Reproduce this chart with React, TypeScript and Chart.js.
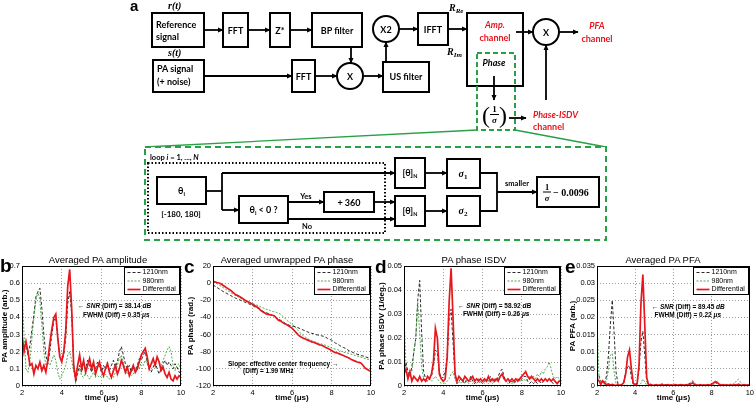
import React, { useEffect, useRef } from "react";
import { Chart, registerables } from "chart.js";
Chart.register(...registerables);

// ---------- data ----------
const TIME = [
  2.0, 2.1, 2.2, 2.3, 2.4, 2.5, 2.6, 2.7, 2.8, 2.9,
  3.0, 3.1, 3.2, 3.3, 3.4, 3.5, 3.6, 3.7, 3.8, 3.9,
  4.0, 4.1, 4.2, 4.3, 4.4, 4.5, 4.6, 4.7, 4.8, 4.9,
  5.0, 5.1, 5.2, 5.3, 5.4, 5.5, 5.6, 5.7, 5.8, 5.9,
  6.0, 6.1, 6.2, 6.3, 6.4, 6.5, 6.6, 6.7, 6.8, 6.9,
  7.0, 7.1, 7.2, 7.3, 7.4, 7.5, 7.6, 7.7, 7.8, 7.9,
  8.0, 8.1, 8.2, 8.3, 8.4, 8.5, 8.6, 8.7, 8.8, 8.9,
  9.0, 9.1, 9.2, 9.3, 9.4, 9.5, 9.6, 9.7, 9.8, 9.9,
  10.0,
];
const SERIES_LABELS = ["1210nm", "980nm", "Differential"];
const X_TICKS = { min: 2, max: 10, step: 2 };

// (b) Averaged PA amplitude
const B_1210 = [
  0.28, 0.22, 0.25, 0.18, 0.24, 0.33, 0.42, 0.52, 0.55, 0.57,
  0.45, 0.30, 0.18, 0.13, 0.20, 0.30, 0.38, 0.40, 0.28, 0.18,
  0.15, 0.18, 0.28, 0.48, 0.55, 0.42, 0.12, 0.02, 0.08, 0.12,
  0.08, 0.13, 0.10, 0.15, 0.12, 0.08, 0.12, 0.10, 0.14, 0.11,
  0.08, 0.12, 0.10, 0.14, 0.09, 0.12, 0.15, 0.11, 0.14, 0.20,
  0.23, 0.18, 0.13, 0.10, 0.12, 0.08, 0.11, 0.09, 0.12, 0.16,
  0.15, 0.18, 0.20, 0.14, 0.10, 0.08, 0.11, 0.14, 0.10, 0.07,
  0.10, 0.13, 0.15, 0.12, 0.14, 0.12, 0.10, 0.13, 0.11, 0.08,
  0.08,
];
const B_980 = [
  0.57, 0.30, 0.10, 0.08, 0.15, 0.28, 0.40, 0.50, 0.55, 0.50,
  0.35, 0.20, 0.12, 0.14, 0.12, 0.15, 0.18, 0.15, 0.08, 0.04,
  0.06, 0.09, 0.12, 0.18, 0.20, 0.15, 0.08, 0.05, 0.07, 0.10,
  0.06, 0.05, 0.08, 0.06, 0.04, 0.06, 0.08, 0.05, 0.06, 0.05,
  0.06, 0.05, 0.07, 0.05, 0.04, 0.06, 0.05, 0.08, 0.12, 0.16,
  0.18, 0.14, 0.10, 0.07, 0.08, 0.06, 0.07, 0.10, 0.12, 0.10,
  0.14, 0.12, 0.15, 0.13, 0.10, 0.12, 0.15, 0.13, 0.16, 0.14,
  0.12, 0.15, 0.18, 0.21, 0.23, 0.20, 0.12, 0.09, 0.12, 0.13,
  0.10,
];
const B_DIFF = [
  0.30, 0.20, 0.26, 0.20, 0.12, 0.13, 0.07, 0.12, 0.10, 0.14,
  0.09, 0.12, 0.08, 0.15, 0.25, 0.33, 0.40, 0.42, 0.28, 0.17,
  0.14, 0.20, 0.32, 0.58, 0.68, 0.45, 0.12, 0.04, 0.12, 0.18,
  0.10, 0.15, 0.08, 0.12, 0.16, 0.10, 0.14, 0.07, 0.11, 0.14,
  0.09, 0.06, 0.10, 0.13, 0.08, 0.05, 0.09, 0.12, 0.07, 0.10,
  0.15, 0.12, 0.08, 0.11, 0.06, 0.09, 0.12, 0.08, 0.10, 0.14,
  0.18, 0.20, 0.22, 0.17, 0.10, 0.13, 0.16, 0.12, 0.17, 0.14,
  0.09, 0.11, 0.07, 0.05, 0.08, 0.04, 0.03, 0.06, 0.04, 0.06,
  0.05,
];

// (c) Averaged unwrapped PA phase
const C_1210 = [
  -2.0, -3.5, -5.0, -6.5, -8.0, -9.5, -11.0, -12.0, -13.5, -14.5,
  -16.0, -17.0, -18.0, -19.0, -20.0, -21.0, -22.0, -23.0, -24.0, -25.0,
  -26.0, -27.5, -28.5, -29.5, -31.0, -32.5, -33.5, -34.5, -35.5, -36.5,
  -37.5, -38.5, -40.0, -41.5, -43.0, -44.5, -46.0, -47.5, -48.5, -49.5,
  -50.0, -50.5, -51.0, -52.0, -53.0, -54.0, -55.0, -56.0, -57.0, -58.0,
  -58.5, -59.0, -60.0, -60.5, -61.0, -61.5, -62.0, -63.0, -64.5, -65.5,
  -66.5, -68.0, -70.0, -71.0, -72.5, -74.0, -75.0, -76.0, -77.5, -79.0,
  -80.0, -81.0, -82.0, -83.0, -83.5, -84.5, -85.0, -86.0, -86.5, -87.5,
  -88.0,
];
const C_980 = [
  1.0, 0.5, -0.5, -2.0, -3.5, -5.0, -6.5, -8.0, -9.5, -11.0,
  -12.5, -14.0, -15.0, -16.5, -17.5, -19.0, -20.0, -21.0, -22.0, -23.0,
  -24.0, -24.5, -25.5, -26.5, -27.5, -28.5, -29.5, -30.5, -31.0, -32.0,
  -33.0, -33.5, -34.0, -35.0, -36.0, -38.0, -40.0, -42.5, -44.5, -46.0,
  -48.0, -50.0, -52.5, -55.0, -57.5, -60.0, -62.0, -63.5, -65.0, -66.0,
  -67.0, -68.0, -69.0, -70.0, -70.5, -71.0, -72.0, -72.5, -73.5, -74.5,
  -75.5, -76.5, -77.0, -77.5, -78.5, -79.5, -80.5, -81.0, -81.5, -82.0,
  -83.0, -83.5, -84.5, -85.0, -85.5, -86.5, -87.0, -88.0, -88.5, -89.5,
  -90.0,
];
const C_DIFF = [
  1.8, 1.5, 0.8, 0.2, -0.8, -2.5, -4.0, -5.5, -7.0, -8.5,
  -10.5, -12.5, -14.0, -15.0, -16.5, -18.0, -19.5, -21.0, -22.0, -23.5,
  -24.5, -26.0, -27.5, -29.0, -31.5, -33.0, -34.5, -36.0, -36.5, -37.0,
  -37.5, -38.0, -40.5, -43.0, -44.0, -45.5, -47.0, -48.0, -49.5, -51.0,
  -52.5, -55.0, -57.5, -60.0, -62.0, -63.5, -64.5, -65.5, -66.5, -67.5,
  -68.5, -69.0, -70.0, -71.0, -72.0, -72.5, -73.5, -75.0, -76.0, -77.0,
  -78.5, -80.0, -81.0, -81.5, -82.5, -83.5, -84.5, -85.5, -86.5, -87.5,
  -89.0, -90.0, -91.0, -92.0, -92.5, -93.5, -96.0, -99.0, -100.5, -102.0,
  -103.0,
];

// (d) PA phase ISDV
const D_1210 = [
  0.004, 0.010, 0.006, 0.004, 0.008, 0.014, 0.020, 0.036, 0.044, 0.022,
  0.006, 0.003, 0.002, 0.003, 0.004, 0.008, 0.015, 0.014, 0.006, 0.003,
  0.004, 0.006, 0.012, 0.028, 0.032, 0.018, 0.005, 0.001, 0.002, 0.003,
  0.002, 0.001, 0.003, 0.002, 0.004, 0.002, 0.001, 0.002, 0.003, 0.002,
  0.001, 0.002, 0.003, 0.002, 0.004, 0.002, 0.003, 0.002, 0.004, 0.006,
  0.007, 0.004, 0.002, 0.003, 0.001, 0.002, 0.001, 0.002, 0.003, 0.002,
  0.003, 0.004, 0.004, 0.002, 0.001, 0.002, 0.001, 0.002, 0.001, 0.002,
  0.001, 0.002, 0.003, 0.002, 0.003, 0.002, 0.001, 0.002, 0.001, 0.002,
  0.001,
];
const D_980 = [
  0.030, 0.008, 0.003, 0.005, 0.006, 0.014, 0.020, 0.035, 0.022, 0.008,
  0.003, 0.002, 0.002, 0.003, 0.002, 0.003, 0.004, 0.003, 0.002, 0.001,
  0.002, 0.001, 0.002, 0.003, 0.005, 0.006, 0.003, 0.001, 0.002, 0.001,
  0.002, 0.001, 0.002, 0.001, 0.002, 0.001, 0.002, 0.001, 0.002, 0.001,
  0.002, 0.001, 0.002, 0.001, 0.002, 0.001, 0.002, 0.002, 0.003, 0.004,
  0.005, 0.003, 0.002, 0.001, 0.002, 0.001, 0.002, 0.002, 0.003, 0.002,
  0.002, 0.003, 0.002, 0.003, 0.004, 0.003, 0.004, 0.003, 0.005, 0.004,
  0.006, 0.005, 0.007, 0.008, 0.010, 0.007, 0.004, 0.003, 0.004, 0.003,
  0.002,
];
const D_DIFF = [
  0.005, 0.007, 0.003, 0.006, 0.002, 0.004, 0.003, 0.002, 0.004, 0.002,
  0.003, 0.002, 0.004, 0.003, 0.005, 0.010, 0.024, 0.020, 0.005, 0.003,
  0.002, 0.003, 0.012, 0.035, 0.049, 0.028, 0.005, 0.002, 0.004, 0.003,
  0.002, 0.004, 0.003, 0.002, 0.003, 0.004, 0.002, 0.003, 0.002, 0.003,
  0.002, 0.003, 0.002, 0.004, 0.002, 0.003, 0.002, 0.003, 0.002, 0.004,
  0.005, 0.003, 0.002, 0.003, 0.002, 0.003, 0.002, 0.003, 0.002, 0.003,
  0.004, 0.005, 0.006, 0.004, 0.003, 0.004, 0.003, 0.002, 0.003, 0.002,
  0.003, 0.002, 0.003, 0.002, 0.003, 0.002, 0.003, 0.002, 0.001, 0.002,
  0.002,
];

// (e) Averaged PA PFA
const E_1210 = [
  0.0015, 0.003, 0.0015, 0.0008, 0.001, 0.003, 0.009, 0.018, 0.025, 0.015,
  0.004, 0.0005, 0.0002, 0.0003, 0.001, 0.004, 0.0055, 0.006, 0.0025, 0.0005,
  0.0003, 0.001, 0.005, 0.013, 0.016, 0.009, 0.0015, 0.0002, 0.0003, 0.0002,
  0.0003, 0.0002, 0.0004, 0.0002, 0.0003, 0.0002, 0.0004, 0.0003, 0.0002, 0.0003,
  0.0002, 0.0003, 0.0002, 0.0004, 0.0003, 0.0002, 0.0003, 0.0004, 0.0006, 0.001,
  0.0015, 0.0008, 0.0004, 0.0002, 0.0003, 0.0002, 0.0003, 0.0002, 0.0003, 0.0004,
  0.0006, 0.0008, 0.001, 0.0006, 0.0003, 0.0002, 0.0003, 0.0002, 0.0003, 0.0002,
  0.0003, 0.0002, 0.0003, 0.0005, 0.0006, 0.0004, 0.0002, 0.0003, 0.0002, 0.0003,
  0.0002,
];
const E_980 = [
  0.02, 0.003, 0.0003, 0.0002, 0.0003, 0.0015, 0.005, 0.009, 0.0095, 0.004,
  0.0005, 0.0001, 0.0002, 0.0001, 0.0002, 0.0003, 0.0002, 0.0001, 0.0002, 0.0001,
  0.0002, 0.0001, 0.0002, 0.0008, 0.002, 0.0012, 0.0003, 0.0001, 0.0002, 0.0001,
  0.0002, 0.0001, 0.0002, 0.0001, 0.0002, 0.0001, 0.0002, 0.0001, 0.0002, 0.0001,
  0.0002, 0.0001, 0.0002, 0.0001, 0.0002, 0.0001, 0.0002, 0.0003, 0.0004, 0.0005,
  0.0008, 0.0004, 0.0002, 0.0001, 0.0002, 0.0001, 0.0002, 0.0001, 0.0002, 0.0002,
  0.0003, 0.0004, 0.0006, 0.0009, 0.0005, 0.0003, 0.0004, 0.0003, 0.0005, 0.0004,
  0.0006, 0.0005, 0.0008, 0.0015, 0.002, 0.0012, 0.0005, 0.0003, 0.0004, 0.0003,
  0.0002,
];
const E_DIFF = [
  0.002, 0.0015, 0.0005, 0.0015, 0.0008, 0.0004, 0.0006, 0.0003, 0.0005, 0.0003,
  0.0002, 0.0003, 0.0002, 0.0004, 0.001, 0.0035, 0.0085, 0.0105, 0.005, 0.0008,
  0.0003, 0.0006, 0.006, 0.024, 0.0325, 0.018, 0.0025, 0.0003, 0.0005, 0.0003,
  0.0002, 0.0004, 0.0002, 0.0003, 0.0005, 0.0002, 0.0003, 0.0004, 0.0002, 0.0003,
  0.0002, 0.0004, 0.0003, 0.0002, 0.0004, 0.0003, 0.0002, 0.0004, 0.0003, 0.0006,
  0.0009, 0.0005, 0.0003, 0.0002, 0.0004, 0.0002, 0.0003, 0.0002, 0.0004, 0.0003,
  0.0005, 0.0009, 0.0013, 0.001, 0.0005, 0.0003, 0.0004, 0.0002, 0.0003, 0.0002,
  0.0003, 0.0002, 0.0004, 0.0003, 0.0005, 0.0003, 0.0002, 0.0004, 0.0002, 0.0003,
  0.0002,
];

// annotations (text, italic flag) positioned in data coordinates
const NOTES_B = [
  { x: 4.82, y: 0.467, segs: [["\u2190 ", false], ["SNR", true], [" (Diff) = 38.14 ", false], ["dB", true]] },
  { x: 5.07, y: 0.414, segs: [["FWHM (Diff) = 0.35 ", false], ["\u03bcs", true]] },
];
const NOTES_C = [
  { x: 2.76, y: -94.5, segs: [["Slope: effective center frequency \u2192", false]] },
  { x: 3.52, y: -102.6, segs: [["(Diff) = 1.99 MHz", false]] },
];
const NOTES_D = [
  { x: 4.75, y: 0.0332, segs: [["\u2190 ", false], ["SNR", true], [" (Diff) = 58.92 ", false], ["dB", true]] },
  { x: 5.0, y: 0.0298, segs: [["FWHM (Diff) = 0.26 ", false], ["\u03bcs", true]] },
];
const NOTES_E = [
  { x: 4.86, y: 0.023, segs: [["\u2190 ", false], ["SNR", true], [" (Diff) = 89.45 ", false], ["dB", true]] },
  { x: 5.01, y: 0.0207, segs: [["FWHM (Diff) = 0.22 ", false], ["\u03bcs", true]] },
];

// ---------- styles ----------
const AR = "Arial, 'Liberation Sans', sans-serif";
const SANS = "Lato, 'Open Sans', sans-serif";
const SERIF = "'Liberation Serif', 'DejaVu Serif', serif";
const LINE_COLORS = ["#111111", "#3f9f3f", "#e8161c"];
const LINE_WIDTHS = [0.9, 0.9, 1.7];
const LINE_DASHES = [[3, 2], [2, 1.5], []];
const DRED = "#e8141e";
const DGREEN = "#27a046";

const PANELS = [
  { key: "b", left: 0, width: 190, axisW: 22, padR: 9, yMin: 0, yMax: 0.7, yStep: 0.1,
    yTitle: "PA amplitude (arb.)", series: [B_1210, B_980, B_DIFF], notes: NOTES_B },
  { key: "c", left: 186, width: 192, axisW: 27, padR: 7, yMin: -120, yMax: 20, yStep: 20,
    yTitle: "PA phase (rad.)", series: [C_1210, C_980, C_DIFF], notes: NOTES_C },
  { key: "d", left: 377, width: 193, axisW: 27, padR: 9, yMin: 0, yMax: 0.05, yStep: 0.01,
    yTitle: "PA phase ISDV (1/deg.)", series: [D_1210, D_980, D_DIFF], notes: NOTES_D },
  { key: "e", left: 568, width: 188, axisW: 29, padR: 5, yMin: 0, yMax: 0.035, yStep: 0.005,
    yTitle: "PA PFA (arb.)", series: [E_1210, E_980, E_DIFF], notes: NOTES_E },
];

function makeFramePlugin(notes) {
  return {
    id: "frameLegendNotes",
    afterDatasetsDraw(chart) {
      const { ctx, chartArea: a, scales } = chart;
      ctx.save();
      ctx.setLineDash([]);
      ctx.strokeStyle = "#000";
      ctx.lineWidth = 1;
      ctx.strokeRect(Math.round(a.left) + 0.5, Math.round(a.top) + 0.5,
        Math.round(a.right - a.left) - 1, Math.round(a.bottom - a.top) - 1);

      // annotations
      ctx.fillStyle = "#000";
      ctx.textBaseline = "middle";
      ctx.textAlign = "left";
      for (const n of notes) {
        let x = scales.x.getPixelForValue(n.x);
        const y = scales.y.getPixelForValue(n.y);
        for (const [t, it] of n.segs) {
          ctx.font = `${it ? "italic " : ""}bold 6.5px ${AR}`;
          ctx.fillText(t, x, y);
          x += ctx.measureText(t).width;
        }
      }

      // legend box
      const w = 55, h = 27;
      const lx = Math.round(a.right) - w - 1.5, ly = Math.round(a.top) + 1.5;
      ctx.fillStyle = "#fff";
      ctx.fillRect(lx, ly, w, h);
      ctx.strokeStyle = "#000";
      ctx.lineWidth = 1;
      ctx.strokeRect(lx, ly, w, h);
      chart.data.datasets.forEach((ds, i) => {
        const yy = ly + 5 + i * 8.5;
        ctx.beginPath();
        ctx.setLineDash(ds.borderDash || []);
        ctx.strokeStyle = ds.borderColor;
        ctx.lineWidth = ds.borderWidth;
        ctx.moveTo(lx + 3, yy);
        ctx.lineTo(lx + 16, yy);
        ctx.stroke();
        ctx.setLineDash([]);
        ctx.fillStyle = "#000";
        ctx.font = `7px ${AR}`;
        ctx.textBaseline = "middle";
        ctx.fillText(ds.label, lx + 18, yy);
      });
      ctx.restore();
    },
  };
}

function PAChart({ p }) {
  const ref = useRef(null);
  useEffect(() => {
    const tickFont = { family: AR, size: 7.5 };
    const titleFont = { family: AR, size: 8, weight: "bold" };
    const grid = { color: "rgba(0,0,0,0.55)", lineWidth: 0.7, drawTicks: false };
    const border = { display: false, dash: [1, 2] };
    const chart = new Chart(ref.current, {
      type: "line",
      data: {
        datasets: p.series.map((s, i) => ({
          label: SERIES_LABELS[i],
          data: TIME.map((t, j) => ({ x: t, y: s[j] })),
          borderColor: LINE_COLORS[i],
          borderWidth: LINE_WIDTHS[i],
          borderDash: LINE_DASHES[i],
          pointRadius: 0,
          tension: 0,
          fill: false,
          order: 2 - i,
        })),
      },
      options: {
        animation: false,
        responsive: false,
        maintainAspectRatio: false,
        events: [],
        layout: { padding: { top: 11, right: p.padR, left: 0, bottom: 0 } },
        plugins: { legend: { display: false }, title: { display: false }, tooltip: { enabled: false } },
        scales: {
          x: {
            type: "linear",
            min: X_TICKS.min,
            max: X_TICKS.max,
            afterFit: (s) => { s.height = 18; },
            ticks: { stepSize: X_TICKS.step, font: tickFont, color: "#000", padding: 2, maxRotation: 0, autoSkip: false },
            grid,
            border,
            title: { display: true, text: "time (\u03bcs)", font: titleFont, color: "#000", padding: { top: 0, bottom: 1 } },
          },
          y: {
            type: "linear",
            min: p.yMin,
            max: p.yMax,
            afterFit: (s) => { s.width = p.axisW; },
            ticks: {
              stepSize: p.yStep, font: tickFont, color: "#000", padding: 2, autoSkip: false,
              callback: (v) => String(+Number(v).toFixed(4)),
            },
            grid,
            border,
            title: { display: true, text: p.yTitle, font: titleFont, color: "#000", padding: 0 },
          },
        },
      },
      plugins: [makeFramePlugin(p.notes)],
    });
    return () => chart.destroy();
  }, [p]);
  return (
    <canvas
      ref={ref}
      width={p.width}
      height={149}
      style={{ position: "absolute", left: p.left, top: 255, width: p.width, height: 149 }}
    />
  );
}

// ---------- diagram helpers ----------
const Box = ({ x, y, w, h, sw = 2 }) => (
  <rect x={x} y={y} width={w} height={h} fill="#fff" stroke="#000" strokeWidth={sw} />
);
const Arr = ({ x1, y1, x2, y2, sw = 1.8 }) => (
  <line x1={x1} y1={y1} x2={x2} y2={y2} stroke="#000" strokeWidth={sw} markerEnd="url(#ah)" />
);
const Ln = ({ pts, sw = 1.8, color = "#000" }) => (
  <polyline points={pts} fill="none" stroke={color} strokeWidth={sw} />
);
const T = ({ x, y, children, size = 9, anchor = "middle", color = "#000", italic = false, family = SANS, weight = 700 }) => (
  <text x={x} y={y} fontFamily={family} fontSize={size} fontWeight={weight} fontStyle={italic ? "italic" : "normal"}
    fill={color} textAnchor={anchor}>{children}</text>
);

function Overlay() {
  return (
    <svg width={756} height={404} style={{ position: "absolute", left: 0, top: 0, pointerEvents: "none" }}>
      <defs>
        <marker id="ah" viewBox="0 0 10 10" refX="9" refY="5" markerWidth="6" markerHeight="6"
          markerUnits="userSpaceOnUse" orient="auto">
          <path d="M0,0.5 L10,5 L0,9.5 z" fill="#000" />
        </marker>
      </defs>

      {/* ---- top signal chain ---- */}
      <T x={130} y={11} size={15} anchor="start" family={AR}>a</T>
      <T x={168} y={9} size={10} anchor="start" family={SERIF} italic>r(t)</T>
      <T x={168} y={56} size={10} anchor="start" family={SERIF} italic>s(t)</T>

      <Arr x1={204} y1={30} x2={223} y2={30} />
      <Arr x1={248} y1={30} x2={270} y2={30} />
      <Arr x1={290} y1={30} x2={312} y2={30} />
      <Arr x1={351} y1={47} x2={351} y2={63} />
      <Arr x1={204} y1={76} x2={292} y2={76} />
      <Arr x1={315} y1={76} x2={337} y2={76} />
      <Arr x1={363} y1={76} x2={383} y2={76} />
      <Arr x1={386} y1={62} x2={386} y2={42} />
      <Arr x1={399} y1={29} x2={418} y2={29} />
      <Arr x1={448} y1={29} x2={467} y2={29} />
      <Arr x1={559} y1={32} x2={578} y2={32} />
      <Arr x1={546} y1={100} x2={546} y2={45} />

      <Box x={152} y={13} w={52} h={34} />
      <T x={156} y={27.5} anchor="start">Reference</T>
      <T x={156} y={39.5} anchor="start">signal</T>
      <Box x={223} y={13} w={25} h={34} />
      <T x={235.5} y={33.5}>FFT</T>
      <Box x={270} y={13} w={20} h={34} />
      <T x={280} y={33.5}>Z*</T>
      <Box x={312} y={13} w={50} h={34} />
      <T x={337} y={33.5}>BP filter</T>

      <Box x={153} y={60} w={51} h={32} />
      <T x={157} y={71.5} anchor="start">PA signal</T>
      <T x={157} y={84.5} anchor="start">(+ noise)</T>
      <Box x={292} y={60} w={23} h={32} />
      <T x={303.5} y={79.5}>FFT</T>
      <circle cx={350} cy={76} r={13} fill="#fff" stroke="#000" strokeWidth={2} />
      <T x={350} y={79.5}>X</T>
      <Box x={383} y={62} w={46} h={30} />
      <T x={406} y={80}>US filter</T>
      <circle cx={386} cy={29} r={13} fill="#fff" stroke="#000" strokeWidth={2} />
      <T x={386} y={32.5}>X2</T>
      <Box x={418} y={13} w={30} h={32} />
      <T x={433} y={32.5}>IFFT</T>

      <text x={449} y={11} fontFamily={SERIF} fontSize={10} fontWeight={700} fontStyle="italic">
        R<tspan fontSize={7} dy={2}>Re</tspan>
      </text>
      <text x={447} y={55} fontFamily={SERIF} fontSize={10} fontWeight={700} fontStyle="italic">
        R<tspan fontSize={7} dy={2}>Im</tspan>
      </text>

      <Box x={467} y={13} w={56} h={73} />
      <T x={495} y={28} italic color={DRED}>Amp.</T>
      <T x={495} y={41} color={DRED}>channel</T>
      <Arr x1={516} y1={32} x2={533} y2={32} />
      <circle cx={546} cy={32} r={13} fill="#fff" stroke="#000" strokeWidth={2} />
      <T x={546} y={35.5}>X</T>
      <T x={597} y={28.5} italic color={DRED}>PFA</T>
      <T x={597} y={41.5} color={DRED}>channel</T>

      {/* phase sub-box */}
      <rect x={477} y={53} width={38} height={77} fill="none" stroke={DGREEN} strokeWidth={2} strokeDasharray="5 3" />
      <T x={494} y={66} italic>Phase</T>
      <Arr x1={494} y1={76} x2={494} y2={100} />
      <T x={486} y={123} size={24} family={SERIF} weight={400}>(</T>
      <T x={503} y={123} size={24} family={SERIF} weight={400}>)</T>
      <T x={494.5} y={112} size={9} family={SERIF}>1</T>
      <line x1={490} y1={114.5} x2={499} y2={114.5} stroke="#000" strokeWidth={1} />
      <T x={494.5} y={123} size={9} family={SERIF} italic>σ</T>
      <Arr x1={509} y1={118} x2={526} y2={118} />
      <T x={533} y={118} anchor="start" italic color={DRED}>Phase-ISDV</T>
      <T x={533} y={130} anchor="start" color={DRED}>channel</T>

      {/* zoom connector */}
      <line x1={477} y1={130} x2={145} y2={147} stroke={DGREEN} strokeWidth={1.3} />
      <line x1={515} y1={130} x2={606} y2={147} stroke={DGREEN} strokeWidth={1.3} />
      <rect x={145} y={147} width={461} height={93} fill="#fff" stroke={DGREEN} strokeWidth={2} strokeDasharray="6 4" />

      {/* ---- zoomed phase-ISDV block ---- */}
      <text x={150} y={160} fontFamily={SANS} fontSize={7.5} fontWeight={700}>
        loop <tspan fontStyle="italic">i</tspan> = 1, ..., <tspan fontStyle="italic">N</tspan>
      </text>

      <Ln pts="206,191 222,191" />
      <Ln pts="222,173 222,210" />
      <Arr x1={222} y1={173} x2={395} y2={173} />
      <Arr x1={222} y1={210} x2={239} y2={210} />
      <Arr x1={288} y1={202} x2={324} y2={202} />
      <Arr x1={374} y1={202} x2={395} y2={202} />
      <Arr x1={288} y1={219} x2={395} y2={219} />
      <Arr x1={425} y1={173} x2={447} y2={173} />
      <Arr x1={425} y1={211} x2={447} y2={211} />
      <Ln pts="480,173 497,173 497,211 480,211" />
      <Arr x1={497} y1={192} x2={537} y2={192} />

      <rect x={148} y={163} width={237} height={70} fill="none" stroke="#000" strokeWidth={2} strokeDasharray="1.5 2" />

      <Box x={157} y={177} w={49} h={27} />
      <text x={181.5} y={194} fontFamily={SANS} fontSize={9} fontWeight={700} textAnchor="middle">
        θ<tspan fontSize={6} dy={2}>i</tspan>
      </text>
      <T x={181} y={217} size={8}>[-180, 180]</T>

      <Box x={239} y={196} w={49} h={27} />
      <text x={263.5} y={213} fontFamily={SANS} fontSize={9} fontWeight={700} textAnchor="middle">
        θ<tspan fontSize={6} dy={2}>i</tspan><tspan dy={-2}> &lt; 0 ?</tspan>
      </text>
      <T x={306} y={199} size={7.5}>Yes</T>
      <T x={307} y={229} size={7.5}>No</T>
      <Box x={324} y={192} w={50} h={20} />
      <T x={349} y={205.5}>+ 360</T>

      <Box x={395} y={158} w={30} h={30} />
      <text x={410} y={176} fontFamily={SANS} fontSize={9} fontWeight={700} textAnchor="middle">
        [θ]<tspan fontSize={5.5} dy={2}>N</tspan>
      </text>
      <Box x={395} y={196} w={30} h={30} />
      <text x={410} y={214} fontFamily={SANS} fontSize={9} fontWeight={700} textAnchor="middle">
        [θ]<tspan fontSize={5.5} dy={2}>N</tspan>
      </text>

      <Box x={447} y={159} w={33} h={29} />
      <text x={463} y={177} fontFamily={SERIF} fontSize={10} fontWeight={700} fontStyle="italic" textAnchor="middle">
        σ<tspan fontSize={7} fontStyle="normal" dy={2}>1</tspan>
      </text>
      <Box x={447} y={196} w={33} h={30} />
      <text x={463} y={214} fontFamily={SERIF} fontSize={10} fontWeight={700} fontStyle="italic" textAnchor="middle">
        σ<tspan fontSize={7} fontStyle="normal" dy={2}>2</tspan>
      </text>
      <T x={517} y={186} size={7.5}>smaller</T>

      <Box x={537} y={177} w={62} h={30} />
      <T x={547} y={189.5} size={8.5} family={SERIF}>1</T>
      <line x1={543} y1={192} x2={551} y2={192} stroke="#000" strokeWidth={1} />
      <T x={547} y={201} size={8.5} family={SERIF} italic>σ</T>
      <T x={553} y={195.5} size={10} anchor="start" family={SERIF}>− 0.0096</T>

      {/* ---- chart titles & panel letters ---- */}
      <T x={98} y={262.5} size={9.5} family={AR} weight={400}>Averaged PA amplitude</T>
      <T x={287} y={262.5} size={9.5} family={AR} weight={400}>Averaged unwrapped PA phase</T>
      <T x={474} y={262.5} size={9.5} family={AR} weight={400}>PA phase ISDV</T>
      <T x={663} y={262.5} size={9.5} family={AR} weight={400}>Averaged PA PFA</T>
      <T x={0} y={272} size={19} anchor="start" family={AR}>b</T>
      <T x={184} y={273} size={19} anchor="start" family={AR}>c</T>
      <T x={375} y={273} size={19} anchor="start" family={AR}>d</T>
      <T x={565} y={273} size={19} anchor="start" family={AR}>e</T>
    </svg>
  );
}

export default function App() {
  return (
    <div style={{ position: "absolute", left: 0, top: 0, width: 756, height: 404, overflow: "hidden", background: "#fff" }}>
      {PANELS.map((p) => (
        <PAChart key={p.key} p={p} />
      ))}
      <Overlay />
    </div>
  );
}
